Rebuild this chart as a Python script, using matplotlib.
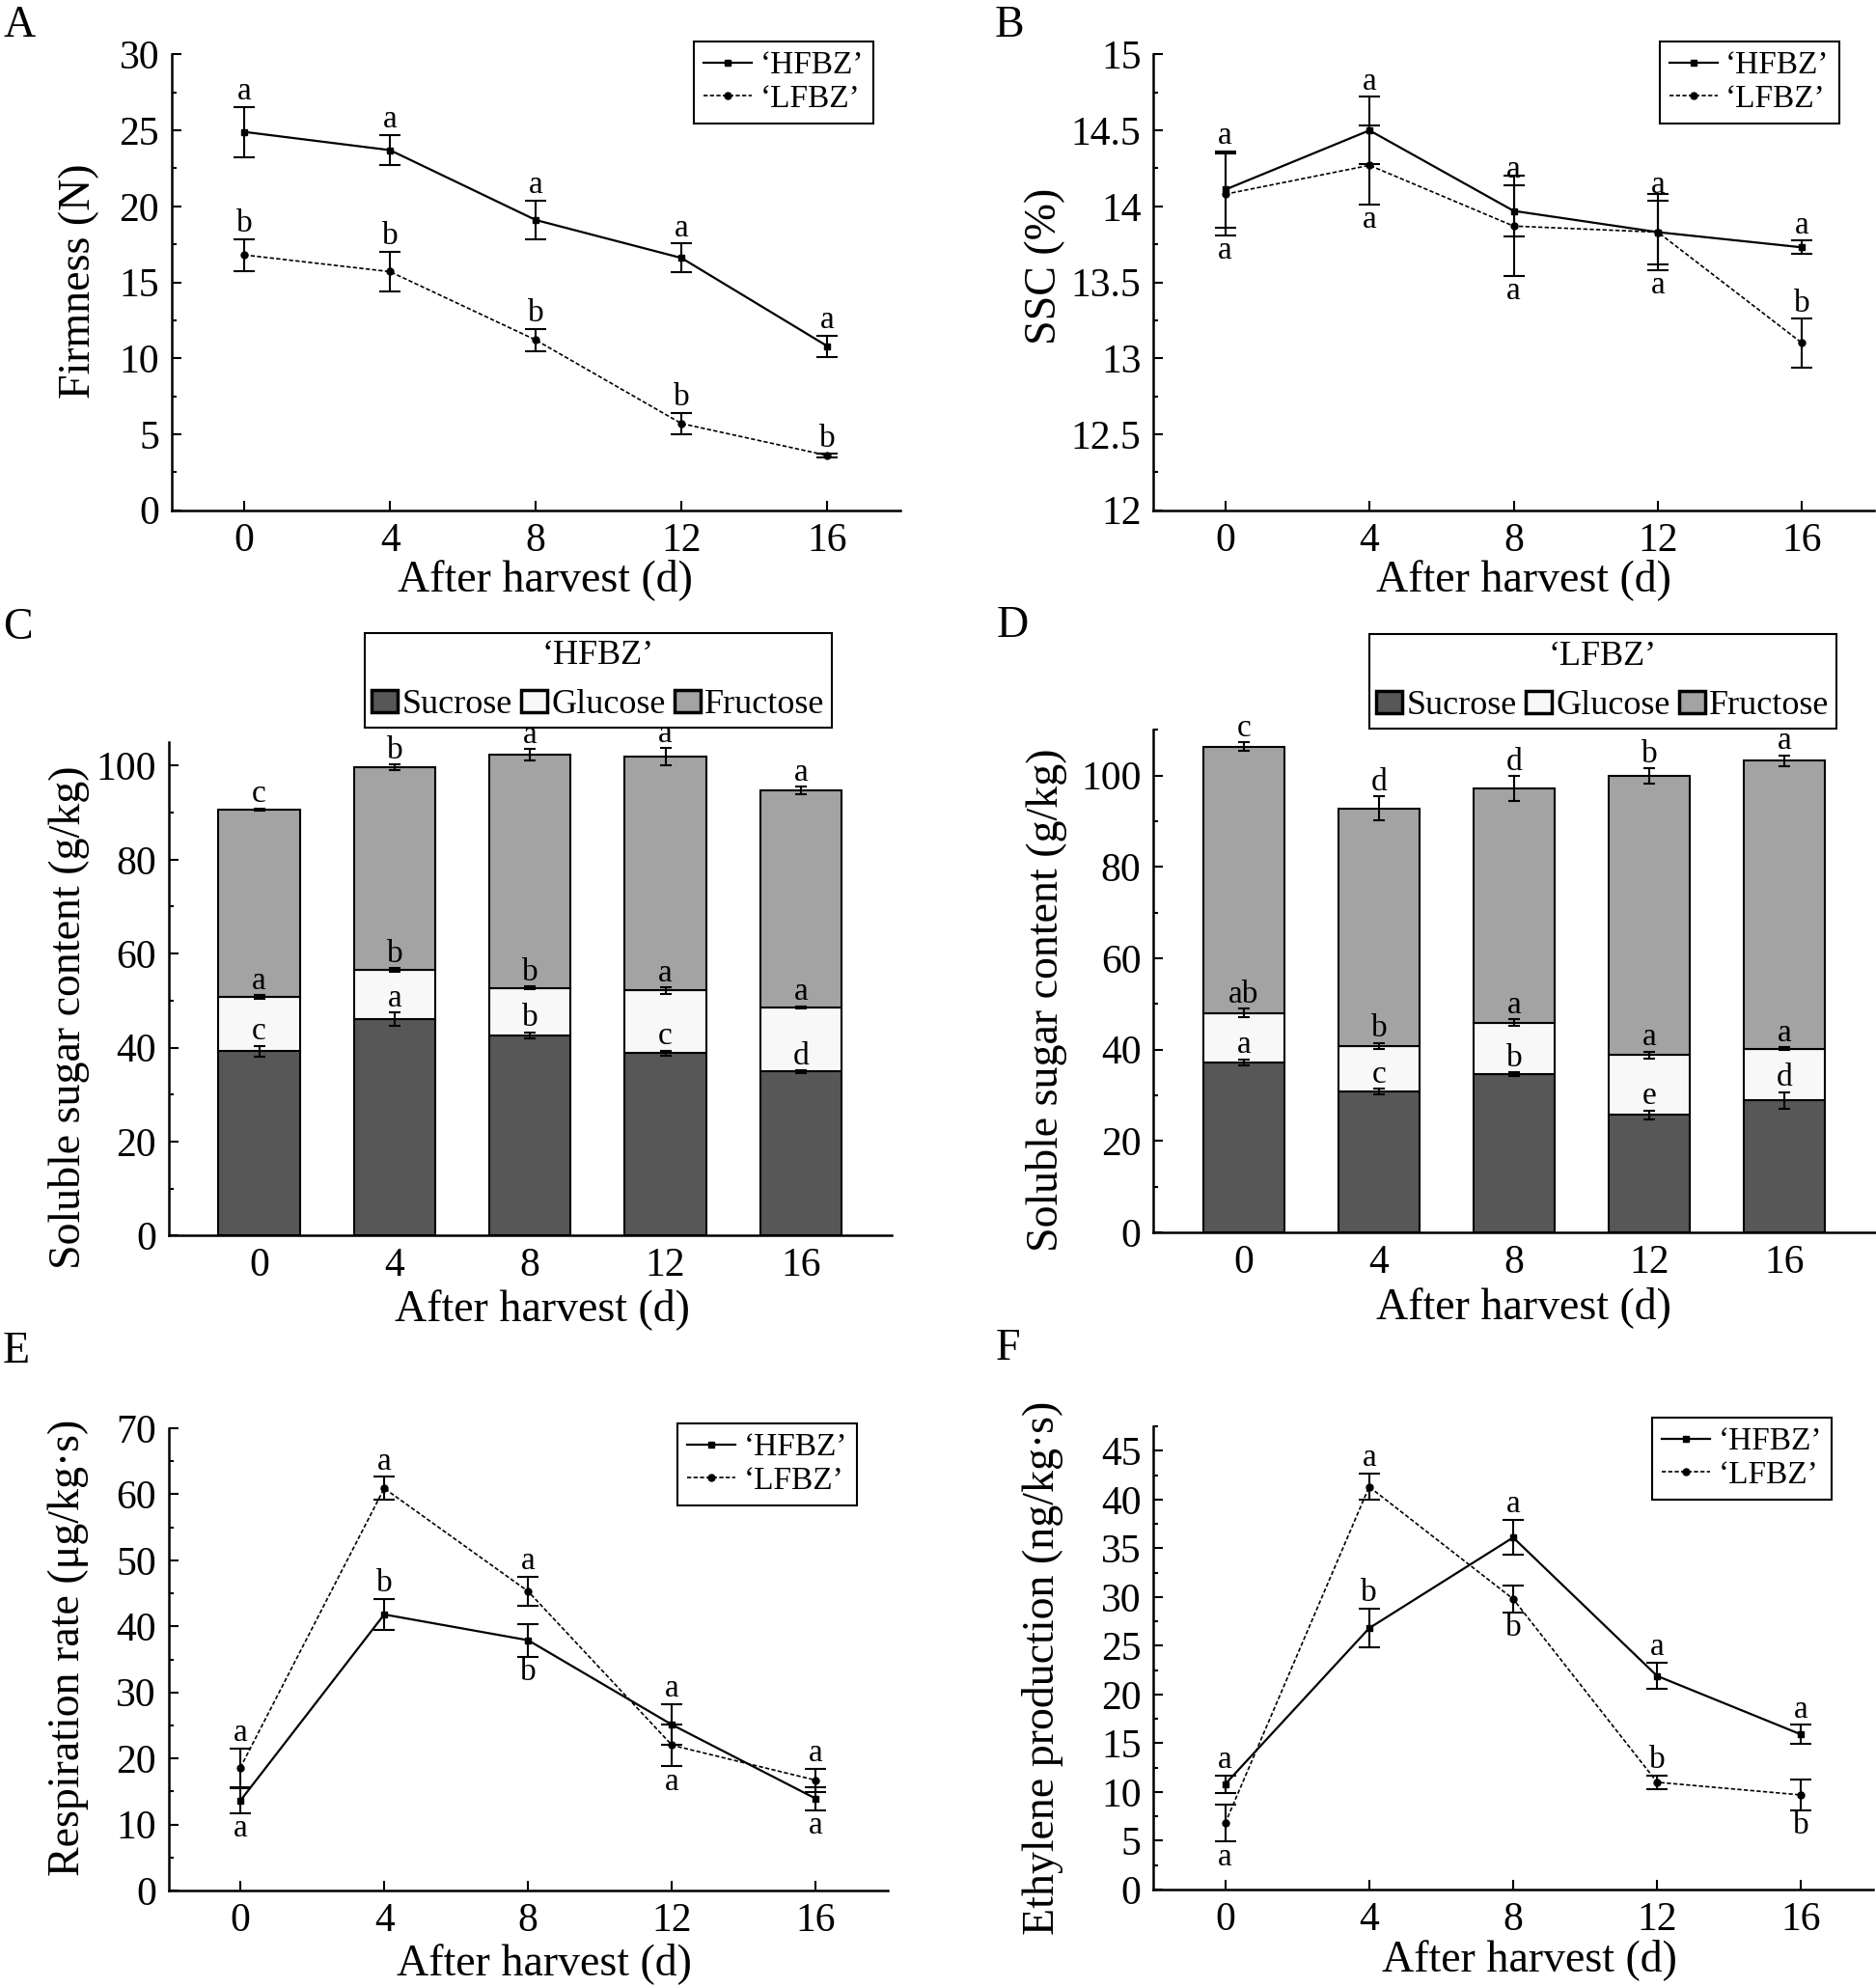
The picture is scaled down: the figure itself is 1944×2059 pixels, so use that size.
import matplotlib
matplotlib.use('Agg')
import matplotlib.pyplot as plt
from matplotlib.ticker import MultipleLocator, FuncFormatter
import numpy as np

plt.rcParams['font.family'] = ['Liberation Serif', 'DejaVu Serif']

# ---------------- data ----------------
days = [0, 4, 8, 12, 16]
cultivars = ['‘HFBZ’', '‘LFBZ’']

# A firmness (N)
firm_h = [24.9, 23.7, 19.1, 16.6, 10.8]
firm_h_err = [1.65, 1.0, 1.3, 0.95, 0.7]
firm_l = [16.8, 15.7, 11.2, 5.7, 3.6]
firm_l_err = [1.05, 1.3, 0.75, 0.7, 0.1]
firm_h_sig = ['a', 'a', 'a', 'a', 'a']
firm_l_sig = ['b', 'b', 'b', 'b', 'b']

# B SSC (%)
ssc_h = [14.11, 14.50, 13.97, 13.83, 13.73]
ssc_h_err = [0.25, 0.22, 0.17, 0.21, 0.045]
ssc_l = [14.08, 14.27, 13.87, 13.83, 13.10]
ssc_l_err = [0.27, 0.26, 0.33, 0.25, 0.16]
ssc_h_sig = ['a', 'a', 'a', 'a', 'a']
ssc_l_sig = ['a', 'a', 'a', 'a', 'b']

# C soluble sugars HFBZ (g/kg)
sugars = ['Sucrose', 'Glucose', 'Fructose']
h_sucrose = [39.2, 46.1, 42.6, 38.8, 34.9]
h_sucrose_err = [1.2, 1.4, 0.7, 0.6, 0.3]
h_glucose = [11.6, 10.5, 10.1, 13.4, 13.7]
h_glucose_err = [0.4, 0.4, 0.3, 0.7, 0.2]
h_fructose = [39.9, 43.0, 49.7, 49.7, 46.2]
h_fructose_err = [0.2, 0.6, 1.2, 1.8, 0.8]
h_sucrose_sig = ['c', 'a', 'b', 'c', 'd']
h_glucose_sig = ['a', 'b', 'b', 'a', 'a']
h_fructose_sig = ['c', 'b', 'a', 'a', 'a']

# D soluble sugars LFBZ (g/kg)
l_sucrose = [37.2, 30.9, 34.7, 25.7, 28.9]
l_sucrose_err = [0.7, 0.6, 0.4, 1.0, 1.8]
l_glucose = [10.8, 9.9, 11.2, 13.1, 11.3]
l_glucose_err = [1.0, 0.7, 0.7, 0.8, 0.3]
l_fructose = [58.3, 52.0, 51.2, 61.1, 63.0]
l_fructose_err = [1.0, 2.6, 2.7, 1.7, 1.2]
l_sucrose_sig = ['a', 'c', 'b', 'e', 'd']
l_glucose_sig = ['ab', 'b', 'a', 'a', 'a']
l_fructose_sig = ['c', 'd', 'd', 'b', 'a']

# E respiration rate
resp_h = [13.6, 41.8, 37.9, 25.1, 13.9]
resp_h_err = [1.9, 2.4, 2.5, 3.1, 1.8]
resp_l = [18.6, 60.9, 45.3, 22.0, 16.7]
resp_l_err = [2.9, 1.75, 2.25, 3.2, 1.75]
resp_h_sig = ['a', 'b', 'b', 'a', 'a']
resp_l_sig = ['a', 'a', 'a', 'a', 'a']

# F ethylene production
eth_h = [10.8, 26.8, 36.1, 21.9, 15.9]
eth_h_err = [0.9, 2.0, 1.8, 1.35, 1.0]
eth_l = [6.8, 41.3, 29.8, 11.0, 9.7]
eth_l_err = [1.9, 1.35, 1.35, 0.7, 1.6]
eth_h_sig = ['a', 'b', 'a', 'a', 'a']
eth_l_sig = ['a', 'a', 'b', 'b', 'b']

# ---------------- figure ----------------
W, H = 1944, 2059
fig = plt.figure(figsize=(W / 100, H / 100), dpi=100)


def px_axes(l, t, r, b):
    return fig.add_axes([l / W, 1 - b / H, (r - l) / W, (b - t) / H])


def style(ax, ylim, major, minor):
    for s in ['top', 'right']:
        ax.spines[s].set_visible(False)
    for s in ['left', 'bottom']:
        ax.spines[s].set_linewidth(1.8)
    ax.set_ylim(*ylim)
    ax.yaxis.set_major_locator(MultipleLocator(major))
    ax.yaxis.set_minor_locator(MultipleLocator(minor))
    ax.yaxis.set_major_formatter(FuncFormatter(lambda v, p: f'{v:g}'))
    ax.tick_params(axis='both', which='major', direction='in', length=7,
                   width=1.5, labelsize=30, pad=9)
    ax.tick_params(axis='y', which='minor', direction='in', length=3.5, width=1.5)
    ax.tick_params(axis='x', which='minor', bottom=False)


def letters(ax, x, y, e, labels, sides, up=5.5, down=-0.5, fs=24):
    for xi, yi, ei, t, s in zip(x, y, e, labels, sides):
        if s > 0:
            ax.annotate(t, (xi, yi + ei), xytext=(0, up), textcoords='offset points',
                        ha='center', va='baseline', fontsize=fs)
        else:
            ax.annotate(t, (xi, yi - ei), xytext=(0, down), textcoords='offset points',
                        ha='center', va='top', fontsize=fs)


def line_panel(ax, yh, eh, yl, el, legpos):
    lh, = ax.plot(days, yh, '-', color='k', lw=1.6, marker='s', ms=5, zorder=3)
    ll, = ax.plot(days, yl, color='k', lw=1.2, ls=(0, (2.6, 1.4)), marker='o', ms=5, zorder=3)
    ax.errorbar(days, yh, yerr=eh, fmt='none', ecolor='k', elinewidth=1.5,
                capsize=8, capthick=1.5, zorder=4)
    ax.errorbar(days, yl, yerr=el, fmt='none', ecolor='k', elinewidth=1.5,
                capsize=8, capthick=1.5, zorder=4)
    ax.set_xlim(-2, 18)
    ax.set_xticks(days)
    leg = ax.legend([lh, ll], cultivars, loc='upper left',
                    bbox_to_anchor=(legpos[0] / W, 1 - legpos[1] / H),
                    bbox_transform=fig.transFigure, fontsize=24, numpoints=1,
                    handlelength=1.5, handletextpad=0.25, labelspacing=0.12,
                    borderpad=0.3, borderaxespad=0, fancybox=False,
                    edgecolor='k', framealpha=1)
    leg.get_frame().set_linewidth(1.5)


def bar_panel(ax, suc, suc_e, glu, glu_e, fru, fru_e, s_sig, g_sig, f_sig,
              title, ylim, legpos):
    x = np.arange(len(days))
    suc = np.array(suc); glu = np.array(glu); fru = np.array(fru)
    c1 = suc
    c2 = suc + glu
    c3 = c2 + fru
    b1 = ax.bar(x, suc, width=0.6, color='#575757', edgecolor='k', lw=1.5)
    b2 = ax.bar(x, glu, bottom=c1, width=0.6, color='#f8f8f8', edgecolor='k', lw=1.5)
    b3 = ax.bar(x, fru, bottom=c2, width=0.6, color='#a3a3a3', edgecolor='k', lw=1.5)
    for c, e, sg in [(c1, suc_e, s_sig), (c2, glu_e, g_sig), (c3, fru_e, f_sig)]:
        ax.errorbar(x, c, yerr=e, fmt='none', ecolor='k', elinewidth=1.5,
                    capsize=4.5, capthick=1.5, zorder=4)
        letters(ax, x, c, e, sg, [1] * 5, up=4.5)
    ax.set_xlim(-0.67, 4.67)
    ax.set_xticks(x)
    ax.set_xticklabels([str(d) for d in days])
    ax.tick_params(axis='x', which='major', length=0)
    style(ax, ylim, 20, 10)
    ax.tick_params(axis='x', which='major', length=0)
    leg = ax.legend([b1, b2, b3], sugars, title=title, ncol=3, loc='upper left',
                    bbox_to_anchor=(legpos[0] / W, 1 - legpos[1] / H),
                    bbox_transform=fig.transFigure, fontsize=26, title_fontsize=26,
                    handlelength=0.75, handleheight=0.6, handletextpad=0.12,
                    columnspacing=0.25, borderpad=0.2, borderaxespad=0,
                    fancybox=False, edgecolor='k', framealpha=1)
    leg.get_frame().set_linewidth(1.5)
    for hnd in leg.legend_handles:
        hnd.set_linewidth(2.5)


xlabel = 'After harvest (d)'

# A
axA = px_axes(177.6, 56.4, 932.7, 528.6)
line_panel(axA, firm_h, firm_h_err, firm_l, firm_l_err, (719, 42.7))
style(axA, (0, 30), 5, 2.5)
letters(axA, days, firm_h, firm_h_err, firm_h_sig, [1] * 5)
letters(axA, days, firm_l, firm_l_err, firm_l_sig, [1] * 5)
axA.set_ylabel('Firmness (N)', fontsize=33, va='center')
axA.yaxis.set_label_coords(-0.1266, 0.503)
axA.set_xlabel(xlabel, fontsize=33, va='baseline')
axA.xaxis.set_label_coords(0.513, -0.1766)

# B
axB = px_axes(1195, 56.4, 1942, 528.6)
line_panel(axB, ssc_h, ssc_h_err, ssc_l, ssc_l_err, (1719.7, 42.9))
style(axB, (12, 15), 0.5, 0.25)
letters(axB, days, ssc_h, ssc_h_err, ssc_h_sig, [1] * 5)
letters(axB, days, ssc_l, ssc_l_err, ssc_l_sig, [-1, -1, -1, -1, 1])
axB.set_ylabel('SSC (%)', fontsize=33, va='center')
axB.yaxis.set_label_coords(-0.15, 0.535)
axB.set_xlabel(xlabel, fontsize=33, va='baseline')
axB.xaxis.set_label_coords(0.514, -0.1766)

# C
axC = px_axes(174.5, 769, 924, 1280.4)
bar_panel(axC, h_sucrose, h_sucrose_err, h_glucose, h_glucose_err, h_fructose,
          h_fructose_err, h_sucrose_sig, h_glucose_sig, h_fructose_sig,
          '‘HFBZ’', (0, 105), (378, 655.7))
axC.set_ylabel('Soluble sugar content (g/kg)', fontsize=33, va='center')
axC.yaxis.set_label_coords(-0.138, 0.443)
axC.set_xlabel(xlabel, fontsize=33, va='baseline')
axC.xaxis.set_label_coords(0.517, -0.171)

# D
axD = px_axes(1195, 756.2, 1943, 1277)
bar_panel(axD, l_sucrose, l_sucrose_err, l_glucose, l_glucose_err, l_fructose,
          l_fructose_err, l_sucrose_sig, l_glucose_sig, l_fructose_sig,
          '‘LFBZ’', (0, 110), (1419, 656.6))
axD.set_ylabel('Soluble sugar content (g/kg)', fontsize=33, va='center')
axD.yaxis.set_label_coords(-0.148, 0.4626)
axD.set_xlabel(xlabel, fontsize=33, va='baseline')
axD.xaxis.set_label_coords(0.513, -0.171)

# E
axE = px_axes(174.5, 1480, 920, 1959)
line_panel(axE, resp_h, resp_h_err, resp_l, resp_l_err, (702, 1475))
style(axE, (0, 70), 10, 5)
letters(axE, days, resp_h, resp_h_err, resp_h_sig, [-1, 1, -1, 1, -1])
letters(axE, days, resp_l, resp_l_err, resp_l_sig, [1, 1, 1, -1, 1])
axE.set_ylabel('Respiration rate (μg/kg·s)', fontsize=33, va='center')
axE.yaxis.set_label_coords(-0.139, 0.526)
axE.set_xlabel(xlabel, fontsize=33, va='baseline')
axE.xaxis.set_label_coords(0.5225, -0.1816)

# F
axF = px_axes(1195, 1478, 1941, 1958)
line_panel(axF, eth_h, eth_h_err, eth_l, eth_l_err, (1712, 1469))
style(axF, (0, 47.5), 5, 2.5)
letters(axF, days, eth_h, eth_h_err, eth_h_sig, [1, 1, 1, 1, 1])
letters(axF, days, eth_l, eth_l_err, eth_l_sig, [-1, 1, -1, 1, -1])
axF.set_ylabel('Ethylene production (ng/kg·s)', fontsize=33, va='center')
axF.yaxis.set_label_coords(-0.153, 0.479)
axF.set_xlabel(xlabel, fontsize=33, va='baseline')
axF.xaxis.set_label_coords(0.523, -0.175)

# panel letters
for lab, (px, py) in zip('ABCDEF', [(3, 38), (1031, 38), (3, 662), (1033, 660),
                                     (3, 1412), (1032, 1409)]):
    fig.text(px / W, 1 - py / H, lab, fontsize=33, ha='left', va='baseline')

fig.savefig('out.png', dpi=100)
